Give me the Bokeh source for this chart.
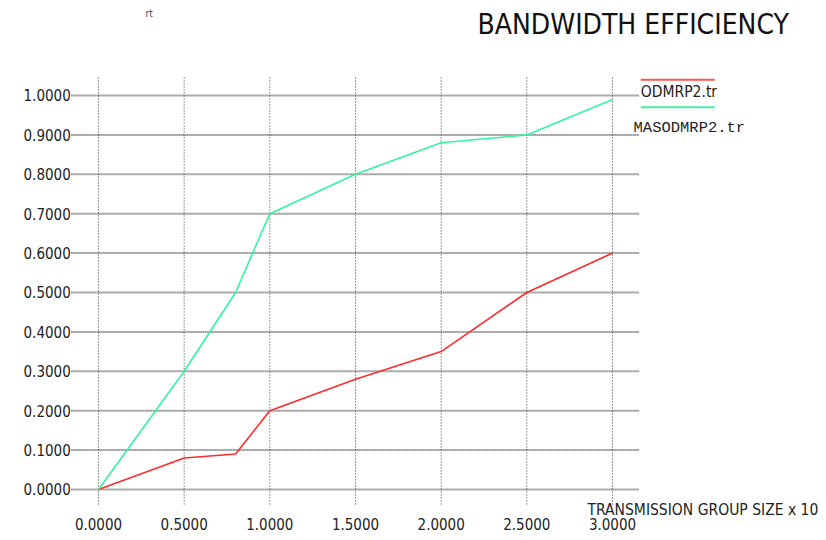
from bokeh.plotting import figure
from bokeh.models import Range1d, Label
from bokeh.core.properties import value
from bokeh.embed import file_html
from bokeh.resources import INLINE

# ---- data ----
group_size = [0.0, 0.5, 0.8, 1.0, 1.5, 2.0, 2.5, 3.0]
odmrp2 = [0.0, 0.08, 0.09, 0.20, 0.28, 0.35, 0.50, 0.60]
masodmrp2 = [0.0, 0.30, 0.50, 0.70, 0.80, 0.88, 0.90, 0.99]
x_ticks = [0.0, 0.5, 1.0, 1.5, 2.0, 2.5, 3.0]
y_ticks = [0.0, 0.1, 0.2, 0.3, 0.4, 0.5, 0.6, 0.7, 0.8, 0.9, 1.0]
x_tick_labels = ["%.4f" % t for t in x_ticks]
y_tick_labels = ["%.4f" % t for t in y_ticks]
series_names = ["ODMRP2.tr", "MASODMRP2.tr"]
title_text = "BANDWIDTH EFFICIENCY"
x_label_text = "TRANSMISSION GROUP SIZE x 10"

NARROW = "Liberation Sans Narrow, DejaVu Sans Condensed, Roboto Condensed, Roboto"
MONO = "Liberation Mono, DejaVu Sans Mono"
RED = "#ff2a2a"
GREEN = "#33f59c"

# grid extents (plot area) in data units
gx0, gx1 = -0.158, 3.158
gy0, gy1 = -0.038, 1.046

p = figure(width=824, height=538, output_backend="svg", toolbar_location=None,
           x_range=Range1d(-0.572, 4.2375), y_range=Range1d(-0.1244, 1.2411),
           min_border=0)
p.xaxis.visible = False
p.yaxis.visible = False
p.xgrid.visible = False
p.ygrid.visible = False
p.outline_line_color = None
p.background_fill_color = "white"
p.border_fill_color = "white"

# grid lines
p.segment(x0=[gx0] * len(y_ticks), y0=y_ticks, x1=[gx1] * len(y_ticks), y1=y_ticks,
          line_color="#5a5a5a", line_width=2, line_dash="1 1")
p.segment(x0=x_ticks, y0=[gy0] * len(x_ticks), x1=x_ticks, y1=[gy1] * len(x_ticks),
          line_color="#333333", line_width=1, line_dash="1 2")

# tick labels
p.text(x=[gx0 - 0.004] * len(y_ticks), y=y_ticks, text=y_tick_labels,
       text_font=value(NARROW), text_font_size="15px", text_color="#222222",
       text_align="right", text_baseline="middle")
p.text(x=x_ticks, y=[-0.0888] * len(x_ticks), text=x_tick_labels,
       text_font=value(NARROW), text_font_size="15px", text_color="#222222",
       text_align="center", text_baseline="middle")

# series
p.line(group_size, odmrp2, line_color=RED, line_width=1.6)
p.line(group_size, masodmrp2, line_color=GREEN, line_width=1.6)

# title
p.add_layout(Label(x=2.212, y=1.180, text=title_text, text_font=NARROW,
                   text_font_size="28px", text_color="#111111",
                   text_baseline="middle"))
# artifact text top-left
p.add_layout(Label(x=0.274, y=1.208, text="rt", text_font=NARROW,
                   text_font_size="10px", text_color="#444444",
                   text_baseline="middle"))
# x-axis label
p.add_layout(Label(x=2.854, y=-0.052, text=x_label_text, text_font=NARROW,
                   text_font_size="15.5px", text_color="#222222",
                   text_baseline="middle"))

# legend
p.segment(x0=[3.165, 3.165], y0=[1.040, 0.970], x1=[3.597, 3.597], y1=[1.040, 0.970],
          line_color=["#ff5555", "#44f0a0"], line_width=2)
p.add_layout(Label(x=3.165, y=1.008, text=series_names[0], text_font=NARROW,
                   text_font_size="15.5px", text_color="#222222",
                   text_baseline="middle"))
p.add_layout(Label(x=3.123, y=0.918, text=series_names[1], text_font=MONO,
                   text_font_size="15.5px", text_color="#222222",
                   text_baseline="middle"))

open("out.html", "w").write(file_html(p, INLINE))
